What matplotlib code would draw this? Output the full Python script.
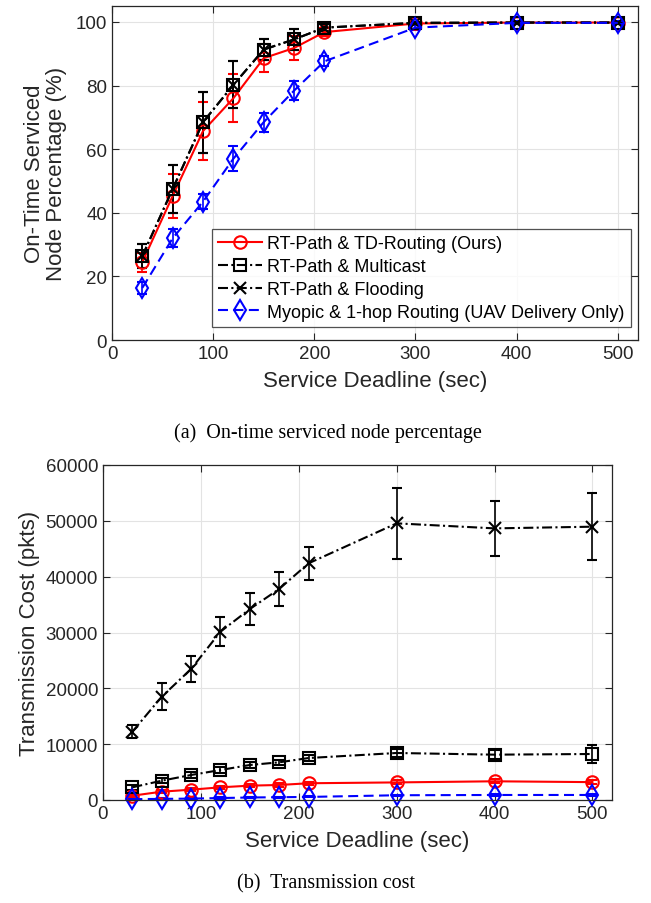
import numpy as np
import matplotlib
matplotlib.use("Agg")
import matplotlib.pyplot as plt

plt.rcParams["font.family"] = ["Liberation Sans", "DejaVu Sans"]

# service deadlines (sec)
deadlines = [30, 60, 90, 120, 150, 180, 210, 300, 400, 500]

# on-time serviced node percentage (%) with error half-widths
td_pct = [24.5, 45.3, 65.7, 76.0, 88.6, 91.8, 96.8, 99.5, 99.8, 99.8]
td_pct_err = [3.0, 7.0, 9.0, 7.5, 4.4, 3.8, 1.2, 0.4, 0.3, 0.3]
mc_pct = [26.4, 47.5, 68.5, 80.2, 91.3, 94.5, 98.2, 99.7, 99.8, 99.8]
mc_pct_err = [3.8, 7.5, 9.6, 7.4, 3.3, 3.3, 1.0, 0.3, 0.3, 0.3]
fl_pct = [26.4, 47.5, 68.5, 80.2, 91.3, 94.5, 98.2, 99.7, 99.8, 99.8]
fl_pct_err = [3.8, 7.5, 9.6, 7.4, 3.3, 3.3, 1.0, 0.3, 0.3, 0.3]
my_pct = [16.4, 32.0, 43.5, 57.0, 68.5, 78.4, 87.6, 98.2, 99.7, 99.7]
my_pct_err = [1.8, 2.8, 2.3, 4.0, 3.0, 2.9, 1.6, 0.8, 0.5, 0.5]

# transmission cost (pkts) with error half-widths
td_cost = [770, 1490, 1850, 2270, 2570, 2690, 3000, 3150, 3350, 3200]
td_cost_err = [150, 250, 250, 300, 300, 300, 300, 350, 350, 350]
mc_cost = [2270, 3460, 4480, 5370, 6270, 6750, 7520, 8420, 8120, 8240]
mc_cost_err = [400, 450, 500, 500, 500, 500, 500, 700, 800, 1600]
fl_cost = [12230, 18500, 23460, 30150, 34200, 37800, 42390, 49550, 48650, 48950]
fl_cost_err = [1150, 2400, 2250, 2550, 2900, 3100, 3000, 6300, 4900, 6000]
my_cost = [150, 200, 250, 350, 450, 500, 550, 850, 900, 900]
my_cost_err = [80, 80, 80, 100, 100, 100, 100, 120, 120, 120]

labels = [
    "RT-Path & TD-Routing (Ours)",
    "RT-Path & Multicast",
    "RT-Path & Flooding",
    "Myopic & 1-hop Routing (UAV Delivery Only)",
]

DASHDOT = (0, (4.8, 1.6, 1.0, 1.6))
DASHED = (0, (4.8, 2.6))
AX_GRAY = "#262626"

styles = [
    dict(color="red", linestyle="-", marker="o", ms=9),
    dict(color="black", linestyle=DASHDOT, marker="s", ms=9),
    dict(color="black", linestyle=DASHDOT, marker="x", ms=8),
    dict(color="blue", linestyle=DASHED, marker="d", ms=10),
]


def style_axes(ax):
    ax.set_xlim(0, 520)
    ax.set_xticks([0, 100, 200, 300, 400, 500])
    ax.grid(True, color="#e3e3e3", linewidth=0.8)
    ax.set_axisbelow(True)
    ax.tick_params(direction="in", top=True, right=True, length=5,
                   labelsize=13.5, colors=AX_GRAY, width=0.8)
    for sp in ax.spines.values():
        sp.set_color(AX_GRAY)
        sp.set_linewidth(0.9)
    ax.set_xlabel("Service Deadline (sec)", fontsize=16, color=AX_GRAY,
                  labelpad=6)


def draw_series(ax, series):
    for (vals, errs), st, lab in zip(series, styles, labels):
        eb = ax.errorbar(deadlines, vals, yerr=errs, color=st["color"],
                         linestyle=st["linestyle"], marker=st["marker"],
                         markersize=st["ms"], markerfacecolor="none",
                         markeredgewidth=1.5, linewidth=1.5,
                         elinewidth=1.2, capsize=3.5, capthick=1.2,
                         label=lab)
        eb[0].set_clip_on(False)


fig = plt.figure(figsize=(6.51, 9.04), dpi=100)

# ---- (a) on-time serviced node percentage ----
ax1 = fig.add_axes([112 / 651, 1 - 341 / 904, 526 / 651, 334 / 904])
draw_series(ax1, [(td_pct, td_pct_err), (mc_pct, mc_pct_err),
                  (fl_pct, fl_pct_err), (my_pct, my_pct_err)])
style_axes(ax1)
ax1.set_ylim(0, 105)
ax1.set_yticks([0, 20, 40, 60, 80, 100])
ax1.set_ylabel("On-Time Serviced\nNode Percentage (%)", fontsize=16,
               color=AX_GRAY, labelpad=6, linespacing=1.1)

handles, labs = ax1.get_legend_handles_labels()
leg = ax1.legend(
    [h[0] for h in handles], labs, loc="lower left",
    bbox_to_anchor=(0.19, 0.039), borderaxespad=0, fontsize=13,
    frameon=True, fancybox=False, handlelength=2.4, handletextpad=0.3,
    labelspacing=0.32, borderpad=0.35,
)
leg.get_frame().set_edgecolor(AX_GRAY)
leg.get_frame().set_linewidth(0.9)

fig.text(328 / 651, 1 - 433 / 904, "(a)  On-time serviced node percentage",
         ha="center", va="center", fontsize=14.5,
         family=["Liberation Serif", "DejaVu Serif"])

# ---- (b) transmission cost ----
ax2 = fig.add_axes([103 / 651, 1 - 801 / 904, 509 / 651, 335 / 904])
draw_series(ax2, [(td_cost, td_cost_err), (mc_cost, mc_cost_err),
                  (fl_cost, fl_cost_err), (my_cost, my_cost_err)])
style_axes(ax2)
ax2.set_ylim(0, 60000)
ax2.set_yticks(np.arange(0, 60001, 10000))
ax2.set_ylabel("Transmission Cost (pkts)", fontsize=16, color=AX_GRAY,
               labelpad=4)

fig.text(326 / 651, 1 - 884 / 904, "(b)  Transmission cost",
         ha="center", va="center", fontsize=14.5,
         family=["Liberation Serif", "DejaVu Serif"])

fig.savefig("out.png", dpi=100)
